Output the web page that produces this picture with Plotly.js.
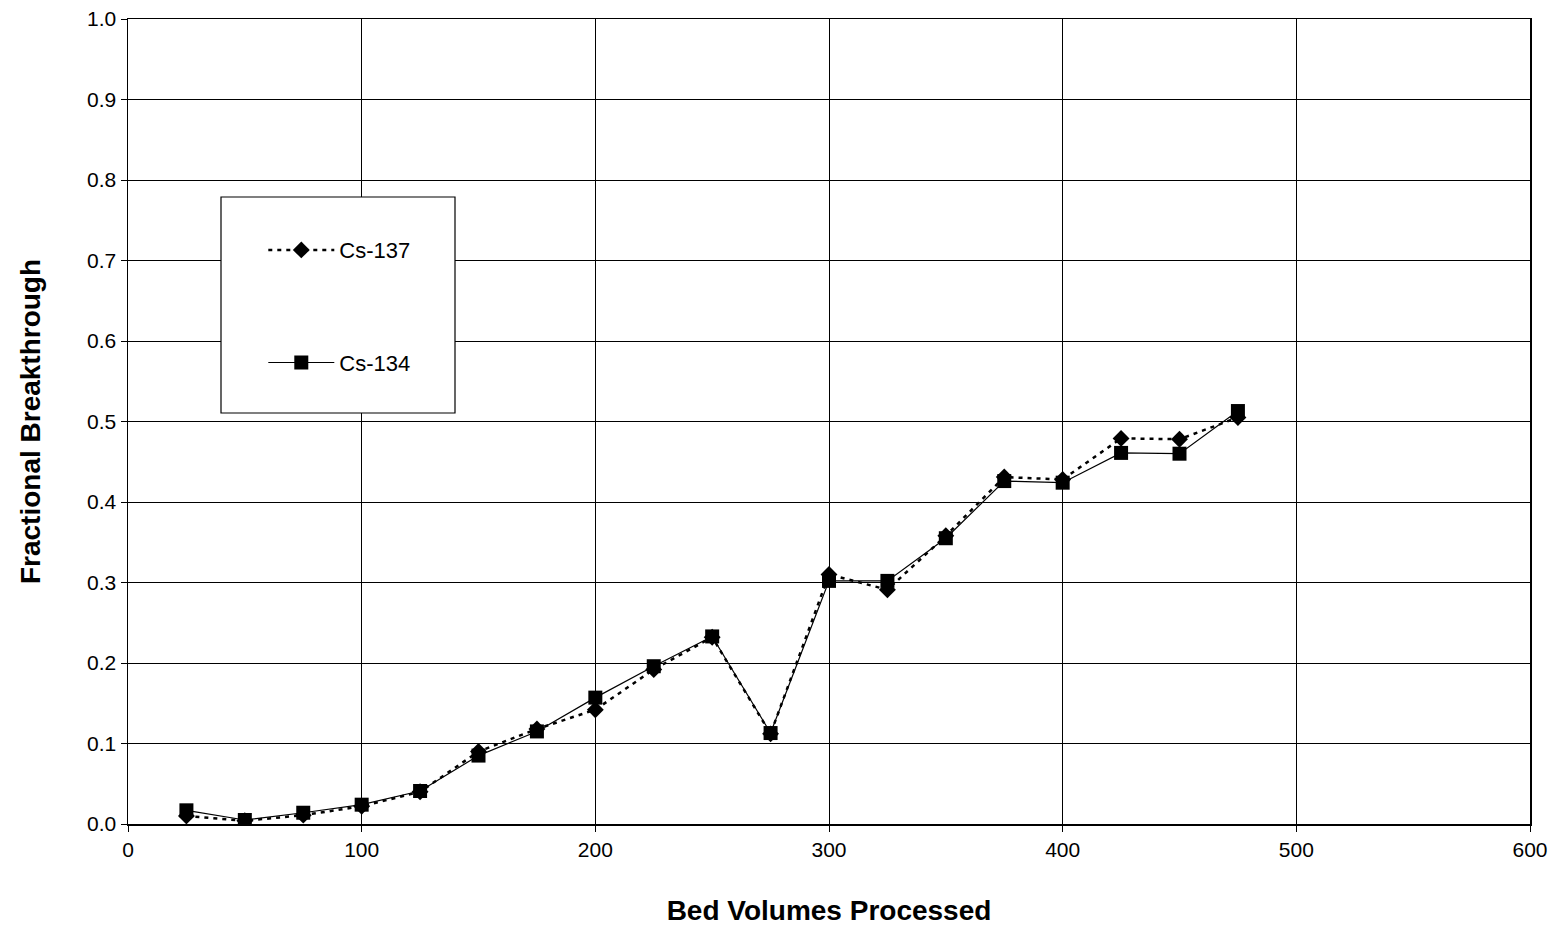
<!DOCTYPE html>
<html>
<head>
<meta charset="utf-8">
<script src="https://cdn.plot.ly/plotly-3.0.1.min.js"></script>
<style>html,body{margin:0;padding:0;background:#fff;}#chart{width:1555px;height:930px;}</style>
</head>
<body>
<div id="chart"></div>
<script>
const bedVolumes = [25, 50, 75, 100, 125, 150, 175, 200, 225, 250, 275, 300, 325, 350, 375, 400, 425, 450, 475];
const cs137 = [0.010, 0.004, 0.011, 0.022, 0.040, 0.090, 0.118, 0.142, 0.192, 0.232, 0.112, 0.310, 0.291, 0.358, 0.431, 0.428, 0.479, 0.478, 0.505];
const cs134 = [0.017, 0.005, 0.014, 0.024, 0.041, 0.085, 0.115, 0.157, 0.196, 0.233, 0.113, 0.302, 0.302, 0.355, 0.426, 0.424, 0.461, 0.460, 0.513];
const xTicks = [0, 100, 200, 300, 400, 500, 600];
const yTicks = [0, 0.1, 0.2, 0.3, 0.4, 0.5, 0.6, 0.7, 0.8, 0.9, 1.0];
const seriesNames = ['Cs-137', 'Cs-134'];

const font = 'Liberation Sans, Arial, sans-serif';
const traces = [
  {
    x: bedVolumes, y: cs137, name: seriesNames[0], type: 'scatter', mode: 'lines+markers',
    line: {color: '#000', width: 2.5, dash: '4px,5px'},
    marker: {symbol: 'diamond', size: 13, color: '#000'},
    legendgroup: 'a'
  },
  {
    x: bedVolumes, y: cs134, name: seriesNames[1], type: 'scatter', mode: 'lines+markers',
    line: {color: '#000', width: 1.2},
    marker: {symbol: 'square', size: 14, color: '#000'},
    legendgroup: 'b'
  }
];
const axisCommon = {
  showline: true, linecolor: '#000', linewidth: 1.5, mirror: true,
  showgrid: true, gridcolor: '#000', gridwidth: 1,
  ticks: 'outside', ticklen: 6, tickcolor: '#000',
  zeroline: false,
  tickfont: {family: font, size: 21, color: '#000'}
};
const layout = {
  width: 1555, height: 930,
  margin: {l: 128, r: 25, t: 19, b: 106},
  paper_bgcolor: '#fff', plot_bgcolor: '#fff',
  showlegend: true,
  xaxis: Object.assign({}, axisCommon, {
    range: [0, 600], tickvals: xTicks, ticktext: xTicks.map(String),
    title: {text: '<b>Bed Volumes Processed</b>', font: {family: font, size: 28, color: '#000'}, standoff: 40}
  }),
  yaxis: Object.assign({}, axisCommon, {
    range: [0, 1.0], tickvals: yTicks, ticktext: yTicks.map(v => v.toFixed(1)),
    title: {text: '<b>Fractional Breakthrough</b>', font: {family: font, size: 28, color: '#000'}, standoff: 38}
  }),
  legend: {
    x: 0.0965, y: 0.739, xanchor: 'left', yanchor: 'top',
    bgcolor: 'rgba(0,0,0,0)', borderwidth: 0,
    traceorder: 'grouped', tracegroupgap: 81,
    font: {family: font, size: 22, color: '#000'},
    itemwidth: 66
  },
  shapes: [{
    type: 'rect', xref: 'paper', yref: 'paper',
    x0: (221 - 128) / 1402, x1: (455 - 128) / 1402,
    y0: (824 - 413) / 805, y1: (824 - 197) / 805,
    line: {color: '#000', width: 1.2}, fillcolor: '#fff', layer: 'above'
  }]
};
Plotly.newPlot('chart', traces, layout, {displayModeBar: false, staticPlot: true});
</script>
</body>
</html>
